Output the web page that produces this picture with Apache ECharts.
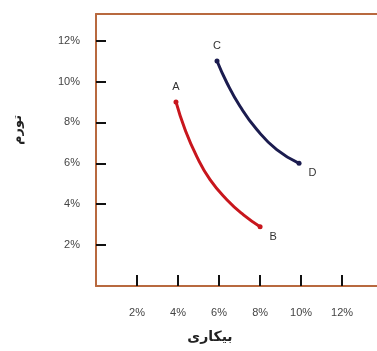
<!DOCTYPE html>
<html><head><meta charset="utf-8">
<script src="https://cdn.jsdelivr.net/npm/echarts@6/dist/echarts.min.js"></script>
<style>html,body{margin:0;padding:0;background:#fff}#c{width:377px;height:351px}</style>
</head><body><div id="c"></div>
<script>
var redX = [3.9, 4.34, 4.91, 5.56, 6.38, 7.19, 8.0];
var redY = [9.0, 7.65, 6.34, 5.2, 4.22, 3.48, 2.9];
var blueX = [5.9, 6.38, 7.02, 7.84, 8.81, 9.9];
var blueY = [11.0, 9.94, 8.79, 7.65, 6.67, 6.0];
var redLabels = ['A', 'B'];
var blueLabels = ['C', 'D'];
var tickVals = [2, 4, 6, 8, 10, 12];
var xName = 'بیکاری';
var yName = 'تورم';

function build(xs, ys, labs) {
  return xs.map(function (x, i) {
    var item = { value: [x, ys[i]] };
    if (i === 0 || i === xs.length - 1) {
      var first = i === 0;
      item.symbol = 'circle';
      item.symbolSize = 5;
      item.label = {
        show: true, formatter: first ? labs[0] : labs[1],
        position: first ? 'top' : 'right',
        offset: first ? [0, -2] : [2, 10],
        color: '#333', fontSize: 11, fontFamily: 'Liberation Sans'
      };
    } else {
      item.symbol = 'none';
    }
    return item;
  });
}

var brown = '#b8693f';
var chart = echarts.init(document.getElementById('c'));
chart.setOption({
  animation: false,
  backgroundColor: '#fff',
  grid: { left: 96, top: 14, right: 0, bottom: 65, containLabel: false },
  xAxis: [{
    type: 'value', min: 0, max: 13.7, interval: 2,
    splitLine: { show: false },
    axisLine: { lineStyle: { color: brown, width: 2 } },
    axisTick: { show: true, inside: true, length: 11, customValues: tickVals, lineStyle: { color: '#111', width: 2 } },
    axisLabel: { customValues: tickVals, formatter: '{value}%', margin: 21, color: '#444', fontSize: 11, fontFamily: 'Liberation Sans' }
  }, {
    type: 'value', position: 'top', min: 0, max: 13.7,
    splitLine: { show: false },
    axisLine: { show: true, lineStyle: { color: brown, width: 2 } },
    axisTick: { show: false }, axisLabel: { show: false }
  }],
  yAxis: {
    type: 'value', min: 0, max: 13.3, interval: 2,
    splitLine: { show: false },
    axisLine: { lineStyle: { color: brown, width: 2 } },
    axisTick: { show: true, inside: true, length: 10, customValues: tickVals, lineStyle: { color: '#111', width: 2 } },
    axisLabel: { customValues: tickVals, formatter: '{value}%', margin: 16, color: '#444', fontSize: 11, fontFamily: 'Liberation Sans' }
  },
  graphic: [
    { type: 'text', position: [210, 337], style: { text: xName, align: 'center', verticalAlign: 'middle', font: 'bold 14px "DejaVu Sans"', fill: '#222' } },
    { type: 'text', position: [18, 130], rotation: Math.PI / 2, style: { text: yName, align: 'center', verticalAlign: 'middle', font: 'bold 13px "DejaVu Sans"', fill: '#222' } }
  ],
  series: [
    { type: 'line', smooth: true, data: build(redX, redY, redLabels), lineStyle: { color: '#c8161d', width: 3 }, itemStyle: { color: '#c8161d' } },
    { type: 'line', smooth: true, data: build(blueX, blueY, blueLabels), lineStyle: { color: '#1b1c4f', width: 3 }, itemStyle: { color: '#1b1c4f' } }
  ]
});
</script></body></html>
